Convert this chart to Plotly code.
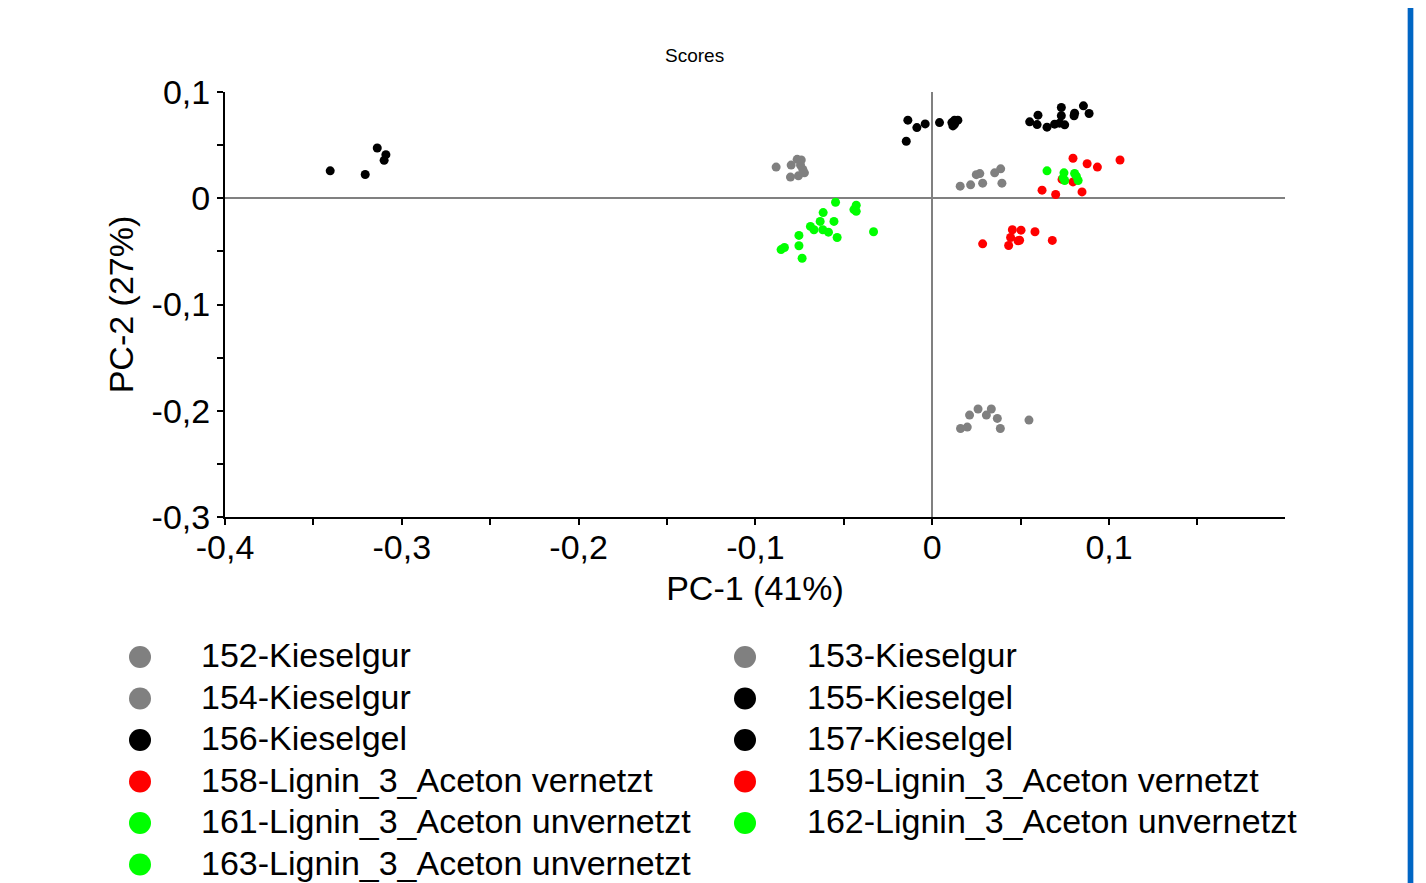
import plotly.graph_objects as go

# ---------------- data ----------------
SERIES = ["152-Kieselgur", "153-Kieselgur", "154-Kieselgur",
          "155-Kieselgel", "156-Kieselgel", "157-Kieselgel",
          "158-Lignin_3_Aceton vernetzt", "159-Lignin_3_Aceton vernetzt",
          "161-Lignin_3_Aceton unvernetzt", "162-Lignin_3_Aceton unvernetzt",
          "163-Lignin_3_Aceton unvernetzt"]
COLORS = ["#808080", "#808080", "#808080",
          "#000000", "#000000", "#000000",
          "#FF0000", "#FF0000",
          "#00FF00", "#00FF00", "#00FF00"]

pc1_152 = [-0.0883, -0.0798, -0.0764, -0.0741, -0.0745, -0.0732, -0.0723, -0.0802, -0.0757]
pc2_152 = [0.0293, 0.0312, 0.0366, 0.0360, 0.0312, 0.0272, 0.0239, 0.0199, 0.0211]

pc1_153 = [0.0158, 0.0217, 0.0249, 0.0269, 0.0285, 0.0353, 0.0387, 0.0394]
pc2_153 = [0.0114, 0.0126, 0.0222, 0.0232, 0.0142, 0.0239, 0.0277, 0.0142]

pc1_154 = [0.0160, 0.0198, 0.0211, 0.0259, 0.0306, 0.0334, 0.0368, 0.0385, 0.0547]
pc2_154 = [-0.2167, -0.2154, -0.2041, -0.1984, -0.2041, -0.1984, -0.2072, -0.2167, -0.2088]

pc1_155 = [-0.3405, -0.3207, -0.3139, -0.3090, -0.3100]
pc2_155 = [0.0258, 0.0224, 0.0473, 0.0410, 0.0357]

pc1_156 = [-0.0138, -0.0087, -0.0040, -0.0147, 0.0041, 0.0111, 0.0126, 0.0145, 0.0117, 0.0126]
pc2_156 = [0.0735, 0.0665, 0.0700, 0.0536, 0.0712, 0.0712, 0.0735, 0.0735, 0.0681, 0.0697]

pc1_157 = [0.0551, 0.0598, 0.0593, 0.0649, 0.0692, 0.0730, 0.0730, 0.0720, 0.0749, 0.0802, 0.0805, 0.0855, 0.0887]
pc2_157 = [0.0719, 0.0782, 0.0693, 0.0669, 0.0697, 0.0854, 0.0776, 0.0707, 0.0691, 0.0776, 0.0801, 0.0870, 0.0798]

pc1_158 = [0.0796, 0.0876, 0.0934, 0.1062, 0.0621, 0.0698, 0.0847, 0.0734, 0.0796]
pc2_158 = [0.0376, 0.0325, 0.0293, 0.0360, 0.0076, 0.0035, 0.0060, 0.0177, 0.0154]

pc1_159 = [0.0285, 0.0453, 0.0502, 0.0581, 0.0443, 0.0485, 0.0494, 0.0432, 0.0679]
pc2_159 = [-0.0429, -0.0296, -0.0300, -0.0315, -0.0369, -0.0400, -0.0395, -0.0445, -0.0397]

pc1_161 = [-0.0547, -0.0430, -0.0443, -0.0430, -0.0617, -0.0634, -0.0556, -0.0689, -0.0669]
pc2_161 = [-0.0038, -0.0066, -0.0107, -0.0123, -0.0135, -0.0218, -0.0218, -0.0265, -0.0296]

pc1_162 = [0.0649, 0.0745, 0.0749, 0.0805, 0.0815, 0.0825, 0.0740]
pc2_162 = [0.0258, 0.0239, 0.0167, 0.0234, 0.0208, 0.0167, 0.0192]

pc1_163 = [-0.0619, -0.0587, -0.0538, -0.0332, -0.0754, -0.0754, -0.0855, -0.0836, -0.0736]
pc2_163 = [-0.0296, -0.0319, -0.0369, -0.0315, -0.0350, -0.0447, -0.0483, -0.0464, -0.0565]

PC1 = [pc1_152, pc1_153, pc1_154, pc1_155, pc1_156, pc1_157, pc1_158, pc1_159, pc1_161, pc1_162, pc1_163]
PC2 = [pc2_152, pc2_153, pc2_154, pc2_155, pc2_156, pc2_157, pc2_158, pc2_159, pc2_161, pc2_162, pc2_163]

X_TICKS = [-0.4, -0.3, -0.2, -0.1, 0, 0.1]
X_TICK_LABELS = ["-0,4", "-0,3", "-0,2", "-0,1", "0", "0,1"]
X_MINOR = [-0.35, -0.25, -0.15, -0.05, 0.05, 0.15]
Y_TICKS = [0.1, 0, -0.1, -0.2, -0.3]
Y_TICK_LABELS = ["0,1", "0", "-0,1", "-0,2", "-0,3"]
Y_MINOR = [0.05, -0.05, -0.15, -0.25]

# ---------------- figure ----------------
OFF = 8                      # page body margin
W, H = 1426 - OFF, 883 - OFF  # figure size
FONT = "Liberation Sans, Arial, sans-serif"
BIG = 34


def fx(px):  # screen px -> paper fraction (x)
    return (px - OFF) / W


def fy(py):  # screen px -> paper fraction (y)
    return 1 - (py - OFF) / H


fig = go.Figure()
for name, col, xs, ys in zip(SERIES, COLORS, PC1, PC2):
    fig.add_trace(go.Scatter(x=xs, y=ys, mode="markers", name=name,
                             marker=dict(color=col, size=9), showlegend=False,
                             xaxis="x", yaxis="y"))

# legend drawn on a helper axis (screen-pixel units)
ROW0, ROWSTEP = 657, 41.5
COL_MARK = [140, 745]
COL_TEXT = [199, 805]
LEG_TOP = 625
for i, (name, col) in enumerate(zip(SERIES, COLORS)):
    r, c = divmod(i, 2)
    yrow = ROW0 + r * ROWSTEP
    fig.add_trace(go.Scatter(x=[COL_MARK[c]], y=[yrow], mode="markers",
                             marker=dict(color=col, size=22), showlegend=False,
                             hoverinfo="skip", xaxis="x2", yaxis="y2"))
    fig.add_annotation(x=COL_TEXT[c], y=yrow - 2, xref="x2", yref="y2",
                       text=name, showarrow=False, xanchor="left", yanchor="middle",
                       font=dict(size=BIG, color="black", family=FONT))

fig.add_annotation(x=fx(694), y=fy(56), xref="paper", yref="paper",
                   text="Scores", showarrow=False, xanchor="center", yanchor="middle",
                   font=dict(size=19, color="black", family=FONT))

axis_common = dict(showgrid=False, showline=True, linecolor="black", linewidth=2,
                   ticks="outside", ticklen=6, tickwidth=2, tickcolor="black",
                   zeroline=True, zerolinecolor="#808080", zerolinewidth=2,
                   automargin=False,
                   tickfont=dict(size=BIG, color="black", family=FONT))

fig.update_layout(
    template="none",
    width=W, height=H, autosize=False,
    margin=dict(l=0, r=0, t=0, b=0, pad=0),
    paper_bgcolor="white", plot_bgcolor="rgba(0,0,0,0)",
    showlegend=False,
    xaxis=dict(domain=[fx(225), fx(1285)], range=[-0.4, 0.1995],
               tickvals=X_TICKS, ticktext=X_TICK_LABELS, ticklabelstandoff=-7,
               minor=dict(tickvals=X_MINOR, ticks="outside", ticklen=6, tickwidth=2, tickcolor="black"),
               title=dict(text="PC-1 (41%)", font=dict(size=BIG, color="black", family=FONT), standoff=11),
               anchor="y", **axis_common),
    yaxis=dict(domain=[fy(517), fy(92)], range=[-0.3, 0.1],
               tickvals=Y_TICKS, ticktext=Y_TICK_LABELS,
               minor=dict(tickvals=Y_MINOR, ticks="outside", ticklen=6, tickwidth=2, tickcolor="black"),
               title=dict(text="PC-2 (27%)", font=dict(size=BIG, color="black", family=FONT), standoff=8),
               anchor="x", **axis_common),
    xaxis2=dict(domain=[0, 1], range=[OFF, OFF + W], visible=False, anchor="y2",
                fixedrange=True, automargin=False),
    yaxis2=dict(domain=[0, fy(LEG_TOP)], range=[OFF + H, LEG_TOP], visible=False, anchor="x2",
                fixedrange=True, automargin=False),
    separators=", ",
)

# blue frame edge at the right of the page
fig.add_shape(type="line", xref="paper", yref="paper", x0=fx(1410.5), x1=fx(1410.5), y0=0, y1=1,
              line=dict(color="#A9C8EC", width=7), layer="above")
fig.add_shape(type="line", xref="paper", yref="paper", x0=fx(1410.5), x1=fx(1410.5), y0=0, y1=1,
              line=dict(color="#0066C4", width=5), layer="above")

fig.write_html("out.html")
